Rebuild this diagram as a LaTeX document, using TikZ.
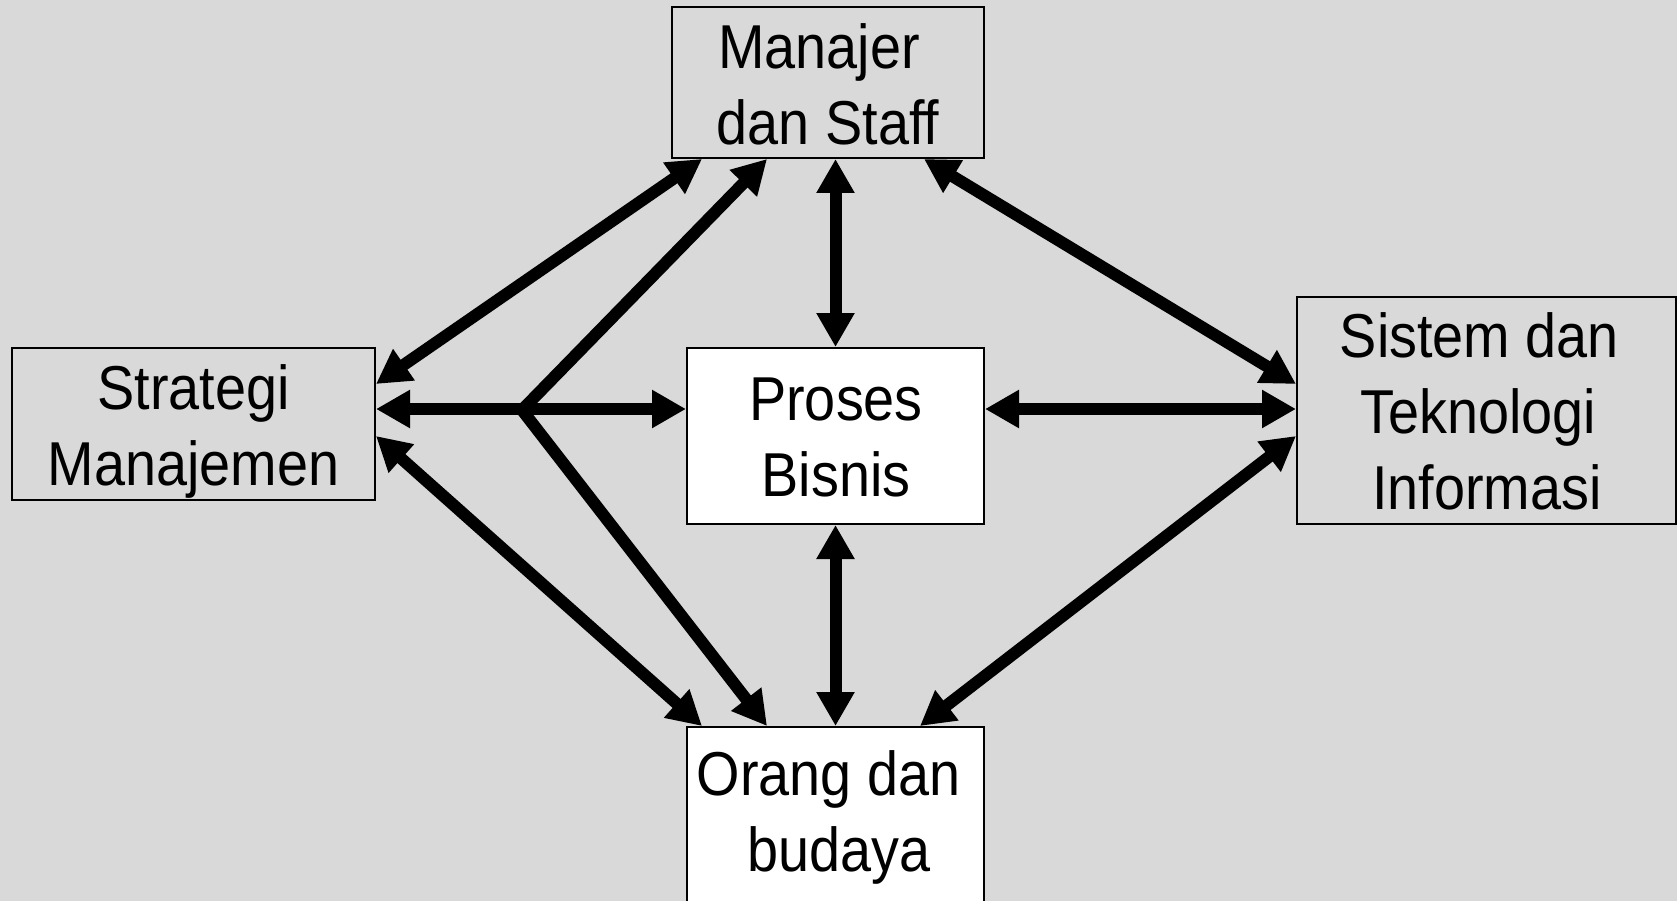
\documentclass[tikz,border=0pt]{standalone}
\usepackage{fontspec}
\setmainfont[FakeStretch=0.9]{Liberation Sans}
\usetikzlibrary{arrows.meta,calc}
\definecolor{bggray}{RGB}{217,217,217}
\tikzset{
  boxg/.style={draw=black,line width=2pt,fill=bggray,inner sep=0pt,rectangle},
  boxw/.style={draw=black,line width=2pt,fill=white,inner sep=0pt,rectangle},
  lbl/.style={align=center,inner sep=0pt,anchor=south,text depth=0pt,font=\fontsize{62}{76}\selectfont},
  dbl/.style={line width=12pt,{Triangle[length=34pt,width=36pt]}-{Triangle[length=34pt,width=36pt]}},
  sgl/.style={line width=12pt,-{Triangle[length=34pt,width=36pt]}}
}
\begin{document}
\begin{tikzpicture}[x=1pt,y=-1pt]
\fill[bggray] (0,0) rectangle (1677,901);
\useasboundingbox (0,0) rectangle (1677,901);
% boxes
\node[boxg,minimum width=312pt,minimum height=151pt] (ms) at (828,82.5) {};
\node[boxg,minimum width=363pt,minimum height=152pt] (sm) at (193.5,424) {};
\node[boxw,minimum width=297pt,minimum height=176pt] (pb) at (835.5,436) {};
\node[boxg,minimum width=379pt,minimum height=227pt] (st) at (1486.5,410.5) {};
\node[boxw,minimum width=297pt,minimum height=260pt] (ob) at (835.5,857) {};
% labels
\node[lbl] (tms) at (828,145) {Manajer\kern18pt\\dan Staff};
\node[lbl] (tsm) at (193.5,486) {Strategi\\Manajemen};
\node[lbl] (tpb) at (836,497) {Proses\\Bisnis};
\node[lbl] (tst) at (1487,510) {Sistem dan\kern15pt\\Teknologi\kern18pt\\Informasi};
\node[lbl] (tob) at (836,872) {Orang dan\kern15pt\\\kern6pt budaya};
% junction
\coordinate (j) at (522,410);
% connectors
\draw[dbl] ($(sm.north east)+(0,37)$) -- ($(ms.south west)+(31,0)$);
\draw[dbl] ($(sm.north east)+(0,62)$) -- ($(pb.north west)+(0,62)$);
\draw[dbl] ($(sm.north east)+(0,89)$) -- ($(ob.north west)+(16,0)$);
\draw[sgl] (j) -- ($(ms.south west)+(96,0)$);
\draw[sgl] (j) -- ($(ob.north west)+(81,0)$);
\draw[dbl] (pb.north |- ms.south) -- (pb.north);
\draw[dbl] (pb.south) -- (ob.north);
\draw[dbl] ($(ms.south east)+(-61,0)$) -- ($(st.north west)+(0,88)$);
\draw[dbl] ($(pb.north east)+(0,62)$) -- ($(st.north west)+(0,113)$);
\draw[dbl] ($(st.north west)+(0,140)$) -- ($(ob.north east)+(-65,0)$);
\end{tikzpicture}
\end{document}
